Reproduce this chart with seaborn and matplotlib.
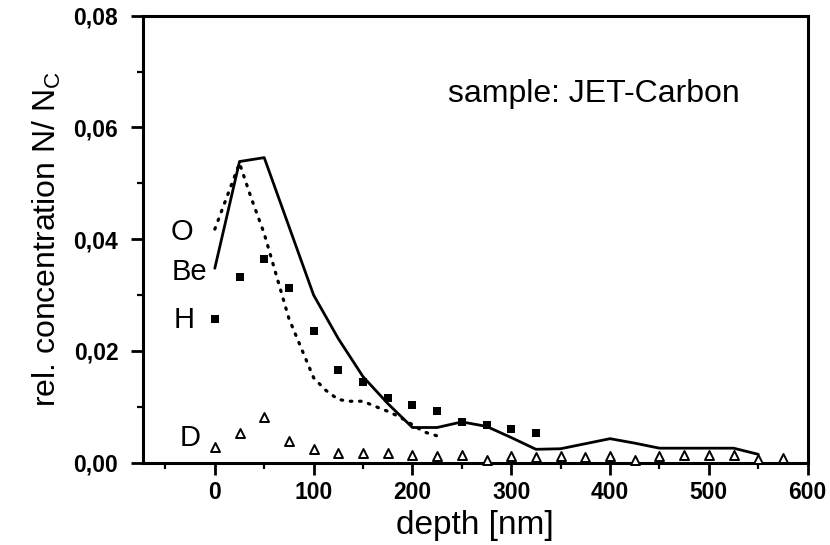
import matplotlib
matplotlib.use("Agg")
import matplotlib.pyplot as plt
from matplotlib.ticker import MultipleLocator, FuncFormatter
import seaborn as sns
import pandas as pd

# Depth profiles of JET carbon sample (relative concentration N/N_C)
o_depth = [0, 25, 50, 100, 125, 150, 175, 200, 225, 250, 275, 300, 325, 350,
           375, 400, 425, 450, 475, 500, 525, 550]
o_conc = [0.0348, 0.0539, 0.0546, 0.0300, 0.0222, 0.0154, 0.0106, 0.0063,
          0.0063, 0.0073, 0.0065, 0.0045, 0.0024, 0.0025, 0.0034, 0.0043,
          0.0035, 0.0026, 0.0026, 0.0026, 0.0026, 0.0015]

be_depth = [0, 25, 37, 50, 62, 75, 87, 100, 112, 125, 137, 150, 162, 175,
            187, 200, 212, 225]
be_conc = [0.0418, 0.0536, 0.0473, 0.0410, 0.0337, 0.0258, 0.0207, 0.0152,
           0.0130, 0.0113, 0.0110, 0.0110, 0.0101, 0.0092, 0.0082, 0.0068,
           0.0055, 0.0048]

h_depth = [0, 25, 50, 75, 100, 125, 150, 175, 200, 225, 250, 275, 300, 325]
h_conc = [0.0258, 0.0333, 0.0365, 0.0312, 0.0236, 0.0166, 0.0144, 0.0116,
          0.0103, 0.0093, 0.0073, 0.0067, 0.0060, 0.0053]

d_depth = [0, 25, 50, 75, 100, 125, 150, 175, 200, 225, 250, 275, 300, 325,
           350, 375, 400, 425, 450, 475, 500, 525, 550, 575]
d_conc = [0.0029, 0.0054, 0.0082, 0.0039, 0.0025, 0.0017, 0.0017, 0.0017,
          0.0013, 0.0012, 0.0013, 0.0005, 0.0012, 0.0011, 0.0012, 0.0011,
          0.0012, 0.0005, 0.0012, 0.0014, 0.0014, 0.0014, 0.0006, 0.0008]

series_labels = ["O", "Be", "H", "D"]
label_pos_x = [-33, -25.5, -31.5, -24.5]
label_pos_y = [0.0413, 0.0342, 0.0255, 0.0044]

sns.set_style("ticks")
plt.rcParams["font.family"] = ["Liberation Sans", "DejaVu Sans"]
plt.rcParams["mathtext.fontset"] = "custom"
plt.rcParams["mathtext.rm"] = "Liberation Sans"
for key in ["text.color", "axes.labelcolor", "xtick.color", "ytick.color",
            "axes.edgecolor"]:
    plt.rcParams[key] = "black"

fig = plt.figure(figsize=(8.3, 5.45), dpi=100)
ax = fig.add_axes([0.1719, 0.151, 0.8012, 0.8202])

o_df = pd.DataFrame({"depth": o_depth, "conc": o_conc})
be_df = pd.DataFrame({"depth": be_depth, "conc": be_conc})
h_df = pd.DataFrame({"depth": h_depth, "conc": h_conc})
d_df = pd.DataFrame({"depth": d_depth, "conc": d_conc})

sns.lineplot(data=o_df, x="depth", y="conc", ax=ax, color="black",
             linewidth=2.0, sort=False)
sns.lineplot(data=be_df, x="depth", y="conc", ax=ax, color="black",
             linewidth=2.3, sort=False, linestyle=(0, (0.5, 2.4)),
             dash_capstyle="round")
sns.scatterplot(data=h_df, x="depth", y="conc", ax=ax, marker="s",
                color="black", s=40, edgecolor="black", linewidth=0)
sns.scatterplot(data=d_df, x="depth", y="conc", ax=ax, marker="^",
                facecolor="white", edgecolor="black", s=42, linewidth=1.4,
                zorder=4, clip_on=False)

for lab, lx, ly in zip(series_labels, label_pos_x, label_pos_y):
    ax.text(lx, ly, lab, fontsize=21, ha="center", va="center")

ax.text(236, 0.0646, "sample: JET-Carbon", fontsize=23, ha="left",
        va="baseline")

ax.set_xlim(-73, 600)
ax.set_ylim(0, 0.08)
ax.xaxis.set_major_locator(MultipleLocator(100))
ax.xaxis.set_minor_locator(MultipleLocator(50))
ax.yaxis.set_major_locator(MultipleLocator(0.02))
ax.yaxis.set_minor_locator(MultipleLocator(0.01))
ax.yaxis.set_major_formatter(FuncFormatter(lambda v, p: f"{v:.2f}".replace(".", ",")))
ax.xaxis.set_major_formatter(FuncFormatter(lambda v, p: f"{v:.0f}"))

ax.tick_params(axis="both", which="major", direction="out", length=8.5,
               width=2.0, labelsize=16.5, color="black", labelcolor="black")
ax.tick_params(axis="x", which="major", pad=5)
ax.tick_params(axis="y", which="major", pad=9)
ax.tick_params(axis="both", which="minor", direction="out", length=4.5,
               width=1.6, color="black")
for lab in ax.get_xticklabels() + ax.get_yticklabels():
    lab.set_fontweight("bold")

for sp in ax.spines.values():
    sp.set_visible(True)
    sp.set_linewidth(2.2)
    sp.set_edgecolor("black")

ax.set_xlabel("depth [nm]", fontsize=24, labelpad=4)
ax.set_ylabel(r"rel. concentration N/ N$_\mathregular{C}$", fontsize=23,
              labelpad=8)

fig.savefig("out.png", dpi=100)
